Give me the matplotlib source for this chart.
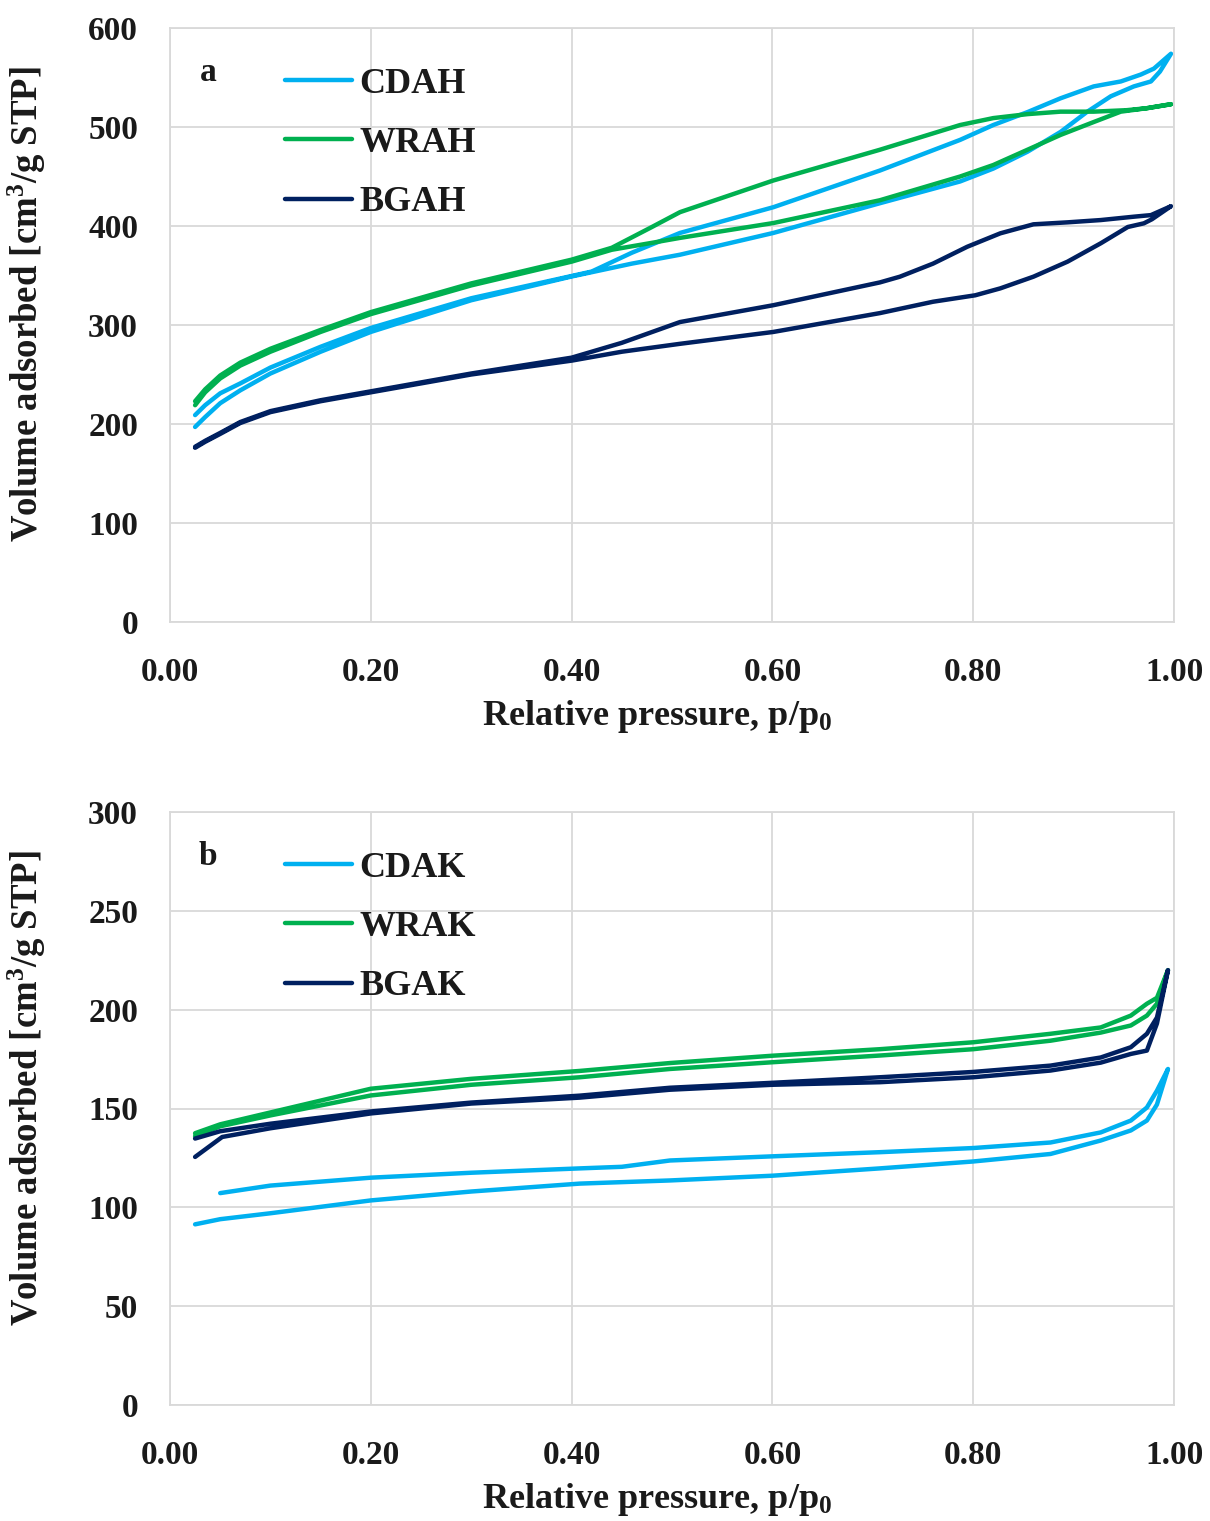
import matplotlib
matplotlib.use("Agg")
import matplotlib.pyplot as plt

plt.rcParams['font.family'] = ['Liberation Serif', 'DejaVu Serif']
plt.rcParams['mathtext.default'] = 'regular'

# ---- Panel a: acid-activated samples (adsorption / desorption branches) ----
cdah_p_ads = [0.025, 0.035, 0.05, 0.07, 0.10, 0.15, 0.20, 0.30, 0.40, 0.46, 0.508, 0.601, 0.707,
              0.787, 0.82, 0.854, 0.887, 0.913, 0.937, 0.96, 0.977, 0.986, 0.997]
cdah_v_ads = [197, 207, 221, 234, 251, 273, 293, 325, 349, 362, 371, 393, 423,
              445, 458, 475, 495, 515, 531, 541, 546, 556, 574]
cdah_p_des = [0.997, 0.98, 0.967, 0.947, 0.92, 0.887, 0.854, 0.82, 0.787, 0.707, 0.601, 0.508,
              0.46, 0.42, 0.30, 0.20, 0.15, 0.10, 0.07, 0.05, 0.035, 0.025]
cdah_v_des = [574, 559, 553, 546, 541, 529, 515, 502, 487, 456, 419, 393,
              373, 354, 327, 297, 278, 257, 241, 231, 219, 209]

wrah_p_ads = [0.025, 0.035, 0.05, 0.07, 0.10, 0.15, 0.20, 0.30, 0.40, 0.44, 0.48, 0.508, 0.601,
              0.707, 0.787, 0.82, 0.854, 0.887, 0.92, 0.947, 0.973, 0.997]
wrah_v_ads = [219, 232, 246, 259, 273, 293, 311, 340, 364, 376, 383, 388, 403,
              426, 450, 461.6, 477, 492, 505, 515.5, 519, 523]
wrah_p_des = [0.997, 0.973, 0.953, 0.92, 0.887, 0.854, 0.82, 0.787, 0.707, 0.601, 0.508, 0.48,
              0.44, 0.40, 0.30, 0.20, 0.15, 0.10, 0.07, 0.05, 0.035, 0.025]
wrah_v_des = [523, 519, 517, 515.5, 515.5, 513, 509, 502, 477, 446, 414, 399,
              378, 366, 342, 313, 295, 276, 262, 249, 235, 223]

bgah_p_ads = [0.025, 0.035, 0.05, 0.07, 0.10, 0.15, 0.20, 0.30, 0.40, 0.45, 0.508, 0.601, 0.707,
              0.76, 0.802, 0.827, 0.86, 0.894, 0.927, 0.954, 0.97, 0.978, 0.997]
bgah_v_ads = [176, 182, 190, 201, 212, 223, 232, 250, 264, 273, 281, 293, 312,
              323.5, 330, 337, 348.8, 364, 382.5, 399, 402.7, 406.8, 420]
bgah_p_des = [0.997, 0.977, 0.96, 0.927, 0.894, 0.86, 0.827, 0.794, 0.76, 0.727, 0.707, 0.601,
              0.508, 0.45, 0.40, 0.30, 0.20, 0.15, 0.10, 0.07, 0.05, 0.035, 0.025]
bgah_v_des = [420, 411, 409.4, 406, 403.7, 401.7, 392.6, 379, 362, 348.8, 343, 320,
              303, 282, 267, 251, 233, 224, 213, 202, 191, 183, 177]

# ---- Panel b: base-activated samples ----
cdak_p_ads = [0.025, 0.05, 0.10, 0.20, 0.30, 0.408, 0.498, 0.60, 0.707, 0.80, 0.877, 0.927, 0.957, 0.973, 0.983, 0.994]
cdak_v_ads = [91.4, 94, 97, 103.5, 108, 112, 113.6, 116, 119.7, 123.2, 127, 133.8, 138.9, 143.9, 152, 170]
cdak_p_des = [0.994, 0.983, 0.973, 0.957, 0.927, 0.877, 0.80, 0.707, 0.60, 0.498, 0.45, 0.408, 0.30, 0.20, 0.10, 0.05]
cdak_v_des = [170, 159, 150.5, 143.9, 137.9, 132.8, 130, 127.9, 125.8, 123.7, 120.5, 119.7, 117.5, 115, 111, 107.2]

wrak_p_ads = [0.025, 0.05, 0.10, 0.20, 0.30, 0.408, 0.498, 0.60, 0.707, 0.80, 0.877, 0.927, 0.957, 0.973, 0.983, 0.994]
wrak_v_ads = [136, 141, 146.5, 156.6, 162, 165.8, 170, 173.4, 176.8, 180, 184.3, 188.4, 192, 197, 203, 220]
wrak_p_des = [0.994, 0.983, 0.973, 0.957, 0.927, 0.877, 0.80, 0.707, 0.60, 0.498, 0.408, 0.30, 0.20, 0.10, 0.05, 0.025]
wrak_v_des = [220, 206, 203, 197, 191, 187.8, 183.5, 180, 176.7, 173, 169, 165, 160, 148, 142, 137.5]

bgak_p_ads = [0.025, 0.052, 0.10, 0.20, 0.30, 0.408, 0.498, 0.60, 0.707, 0.80, 0.877, 0.927, 0.957, 0.973, 0.983, 0.994]
bgak_v_ads = [125.5, 135.6, 140, 147.5, 152.5, 155.5, 159.5, 162, 163.3, 165.8, 169.2, 173.2, 177.6, 179.3, 193, 220]
bgak_p_des = [0.994, 0.983, 0.973, 0.957, 0.927, 0.877, 0.80, 0.707, 0.60, 0.498, 0.408, 0.30, 0.20, 0.10, 0.05, 0.025]
bgak_v_des = [220, 196, 187.8, 181, 175.8, 171.7, 168.5, 165.8, 163, 160.5, 156.5, 153, 148.5, 142.3, 138.5, 134.8]

x_ticks = [0.0, 0.2, 0.4, 0.6, 0.8, 1.0]
x_ticklabels = ['0.00', '0.20', '0.40', '0.60', '0.80', '1.00']

C_BLUE = '#00b0f0'
C_GREEN = '#00b050'
C_NAVY = '#002060'
GRID = '#d9d9d9'
TXT = '#1a1a1a'

panel_a = [
    ('CDAH', C_BLUE, cdah_p_ads, cdah_v_ads, cdah_p_des, cdah_v_des),
    ('WRAH', C_GREEN, wrah_p_ads, wrah_v_ads, wrah_p_des, wrah_v_des),
    ('BGAH', C_NAVY, bgah_p_ads, bgah_v_ads, bgah_p_des, bgah_v_des),
]
panel_b = [
    ('CDAK', C_BLUE, cdak_p_ads, cdak_v_ads, cdak_p_des, cdak_v_des),
    ('WRAK', C_GREEN, wrak_p_ads, wrak_v_ads, wrak_p_des, wrak_v_des),
    ('BGAK', C_NAVY, bgak_p_ads, bgak_v_ads, bgak_p_des, bgak_v_des),
]

fig = plt.figure(figsize=(12.10, 15.21), dpi=100)
ax_a = fig.add_axes([170 / 1210, 1 - 622 / 1521, 1004 / 1210, 594 / 1521])
ax_b = fig.add_axes([170 / 1210, 1 - 1405 / 1521, 1004 / 1210, 593 / 1521])


def draw_panel(ax, series, ymax, ystep, letter):
    for name, color, pa, va, pd, vd in series:
        ax.plot(list(pa) + list(pd), list(va) + list(vd), color=color, lw=3.2,
                solid_capstyle='round', solid_joinstyle='round', label=name)
    ax.set_xlim(0, 1.0)
    ax.set_ylim(0, ymax)
    ax.set_xticks(x_ticks)
    ax.set_xticklabels(x_ticklabels)
    ax.set_yticks(range(0, ymax + 1, ystep))
    ax.grid(True, color=GRID, lw=1.3)
    ax.set_axisbelow(True)
    for sp in ax.spines.values():
        sp.set_color(GRID)
        sp.set_linewidth(1.3)
    ax.tick_params(length=0, labelsize=24, colors=TXT)
    ax.tick_params(axis='x', pad=25)
    ax.tick_params(axis='y', pad=23)
    for lab in ax.get_xticklabels() + ax.get_yticklabels():
        lab.set_fontweight('bold')
    ax.set_xlabel('Relative pressure, p/p$_0$', fontsize=26, fontweight='bold',
                  color=TXT)
    ax.xaxis.set_label_coords(0.4855, -0.128)
    ax.set_ylabel('Volume adsorbed [cm$^3$/g STP]', fontsize=26.5, fontweight='bold',
                  color=TXT)
    ax.yaxis.set_label_coords(-0.122, 0.535)
    ax.text(0.038, 0.925, letter, transform=ax.transAxes, fontsize=24,
            fontweight='bold', ha='center', va='center', color=TXT)
    leg = ax.legend(loc='upper left', bbox_to_anchor=(0.1, 0.958), frameon=False,
                    fontsize=26, handlelength=1.85, handletextpad=0.22,
                    labelspacing=0.72, borderaxespad=0)
    for t in leg.get_texts():
        t.set_fontweight('bold')
        t.set_color(TXT)


draw_panel(ax_a, panel_a, 600, 100, 'a')
draw_panel(ax_b, panel_b, 300, 50, 'b')

fig.savefig('out.png', dpi=100, facecolor='white')
